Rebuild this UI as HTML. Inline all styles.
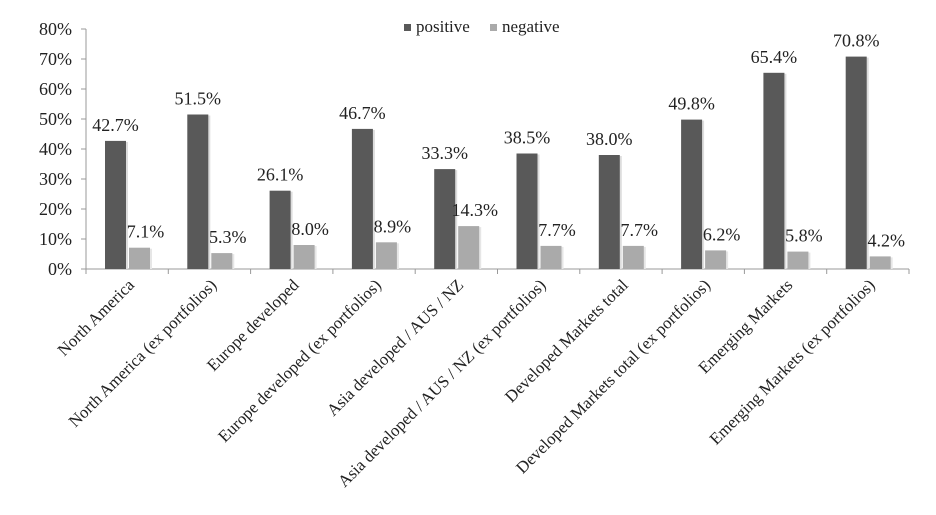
<!DOCTYPE html>
<html><head><meta charset="utf-8"><style>
body{margin:0;background:#fff}
svg text{font-family:"Liberation Serif","Times New Roman",Times,serif;fill:#222}
</style></head><body>
<svg id="c" width="936" height="510"></svg>
<script>
const categories=["North America","North America (ex portfolios)","Europe developed","Europe developed (ex portfolios)","Asia developed / AUS / NZ","Asia developed / AUS / NZ (ex portfolios)","Developed Markets total","Developed Markets total (ex portfolios)","Emerging Markets","Emerging Markets (ex portfolios)"];
const positive=[42.7,51.5,26.1,46.7,33.3,38.5,38.0,49.8,65.4,70.8];
const negative=[7.1,5.3,8.0,8.9,14.3,7.7,7.7,6.2,5.8,4.2];
const yTicks=[0,10,20,30,40,50,60,70,80];
const NS="http://www.w3.org/2000/svg";
const svg=document.getElementById('c');
const x0=86,x1=909,y0=269,yTop=29;
const bw=(x1-x0)/categories.length;
const y=v=>y0-(v/80)*(y0-yTop);
function mk(t,a,p){const e=document.createElementNS(NS,t);for(const k in a)e.setAttribute(k,a[k]);(p||svg).appendChild(e);return e;}
let ax=mk('line',{x1:x0,y1:yTop,x2:x0,y2:y0,stroke:'#999'});


let bx=mk('line',{x1:x0,y1:y0,x2:x1,y2:y0,stroke:'#999'});


yTicks.forEach(v=>{
  mk('line',{x1:x0-5,y1:y(v),x2:x0,y2:y(v),stroke:'#999'});
  const t=mk('text',{x:x0-14,y:y(v)+6,'text-anchor':'end','font-size':18});
  t.textContent=v+'%';
  
  
});
for(let i=0;i<=categories.length;i++){mk('line',{x1:x0+i*bw,y1:y0,x2:x0+i*bw,y2:y0+5,stroke:'#999'});}
categories.forEach((c,i)=>{
  const gx=x0+i*bw;
  const px=gx+19,nx=gx+43,w=21;
  mk('rect',{x:px+2,y:y(positive[i])+1,width:w,height:y0-y(positive[i])-1,fill:'#ddd'});
  const b=mk('rect',{x:px,y:y(positive[i]),width:w,height:y0-y(positive[i]),fill:'#595959'});
  
  
  mk('rect',{x:nx+2,y:y(negative[i])+1,width:w,height:y0-y(negative[i])-1,fill:'#e6e6e6'});
  const n=mk('rect',{x:nx,y:y(negative[i]),width:w,height:y0-y(negative[i]),fill:'#aaaaaa'});
  
  
  const tp=mk('text',{x:px+w/2,y:y(positive[i])-10,'text-anchor':'middle','font-size':18});
  tp.textContent=positive[i].toFixed(1)+'%';
  
  
  const tn=mk('text',{x:nx+w/2+6,y:y(negative[i])-10,'text-anchor':'middle','font-size':18});
  tn.textContent=negative[i].toFixed(1)+'%';
  
  
  const cx=gx+bw/2+8,cy=y0+17;
  const tl=mk('text',{x:cx,y:cy,'text-anchor':'end','font-size':16.8,transform:`rotate(-45 ${cx} ${cy})`});
  tl.textContent=c;
  
  
});
const lg=mk('g',{});


mk('rect',{x:404,y:24,width:7,height:7,fill:'#595959'},lg);
let l1=mk('text',{x:416,y:32,'font-size':17},lg);l1.textContent='positive';
mk('rect',{x:490,y:24,width:7,height:7,fill:'#aaaaaa'},lg);
let l2=mk('text',{x:502,y:32,'font-size':17},lg);l2.textContent='negative';
</script>
</body></html>
